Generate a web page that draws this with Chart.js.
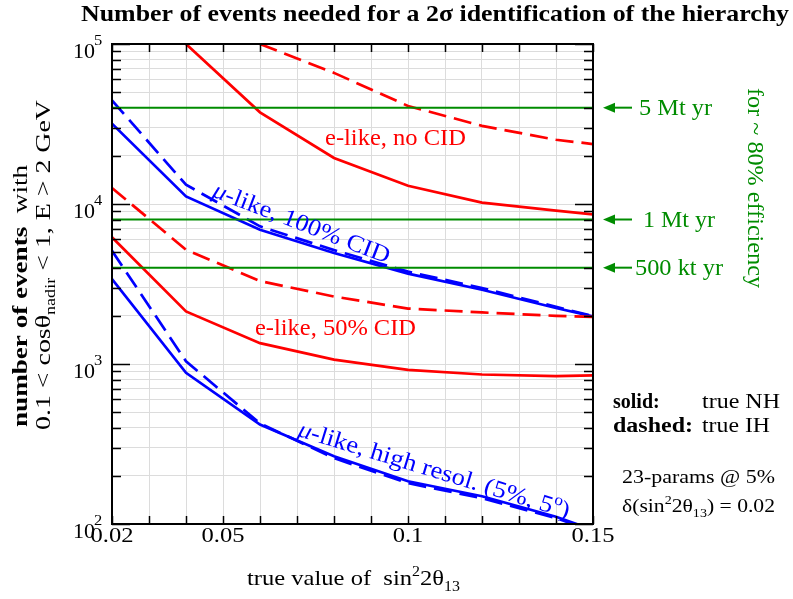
<!DOCTYPE html>
<html>
<head>
<meta charset="utf-8">
<script src="https://cdn.jsdelivr.net/npm/chart.js@4"></script>
<style>
  body { margin: 0; background: #fff; }
  #wrap { width: 793px; height: 599px; }
</style>
</head>
<body>
<div id="wrap"><canvas id="myChart"></canvas></div>
<script>
// true sin^2(2 theta13) values where the curves are evaluated
const sin2theta = [0.02, 0.04, 0.06, 0.08, 0.10, 0.12, 0.14, 0.15];

// number of events needed (solid = true NH, dashed = true IH)
const eNoCidNH  = [null, 100000, 37400, 19400, 13000, 10200, 9100, 8600];
const eNoCidIH  = [null, null, 100000, 66000, 41000, 30800, 25200, 23700];
const e50NH     = [6200, 2130, 1350, 1065, 920, 860, 840, 850];
const e50IH     = [12600, 5180, 3300, 2640, 2220, 2100, 2000, 1970];
const mu100NH   = [31800, 11150, 6900, 4940, 3670, 2910, 2240, 1985];
const mu100IH   = [44400, 13200, 7250, 5150, 3780, 2980, 2280, 1990];
const muResNH   = [3400, 880, 418, 265, 185, 149, 111, 92];
const muResIH   = [5100, 1040, 425, 258, 180, 145, 109, 90];

// exposure reference lines
const exposureEvents = [40000, 8000, 4000];
const exposureLabels = ['5 Mt yr', '1 Mt yr', '500 kt yr'];

// ticks
const xTicks = [0.02, 0.03, 0.04, 0.05, 0.06, 0.07, 0.08, 0.09, 0.10, 0.11, 0.12, 0.13, 0.14, 0.15];
const xLabelValues = [0.02, 0.05, 0.1, 0.15];
const xLabelTexts = ['0.02', '0.05', '0.1', '0.15'];
const yDecades = [2, 3, 4, 5];
const yTicks = [];
yDecades.forEach(function(e) {
  for (let m = 1; m <= 9; m++) {
    if (e === 5 && m > 1) break;
    yTicks.push(m * Math.pow(10, e));
  }
});

const RED = 'rgb(255,0,0)';
const BLUE = 'rgb(0,0,255)';
const GREEN = 'rgb(0,140,0)';
const FONT = '"Liberation Serif", "Times New Roman", serif';

function series(vals, color, dashed) {
  return {
    data: sin2theta.map(function(x, i) { return { x: x, y: vals[i] }; }),
    borderColor: color,
    borderWidth: 2.7,
    borderDash: dashed ? [18, 8] : [],
    pointRadius: 0,
    tension: 0,
    fill: false,
    clip: 0
  };
}

function hline(v) {
  return {
    data: [{ x: sin2theta[0], y: v }, { x: sin2theta[sin2theta.length - 1], y: v }],
    borderColor: GREEN,
    borderWidth: 2,
    pointRadius: 0,
    fill: false,
    clip: 0
  };
}

// draw a list of text runs (with sup/sub), optionally rotated and stretched
function drawRuns(ctx, runs, o) {
  const size = o.size;
  function fontOf(r) {
    const s = (r.sup || r.sub) ? size * (r.small || 0.65) : size;
    return (r.italic ? 'italic ' : '') + (r.bold ? 'bold ' : '') + s + 'px ' + FONT;
  }
  let natural = 0;
  runs.forEach(function(r) { ctx.font = fontOf(r); natural += ctx.measureText(r.t).width; });
  const sx = o.width ? o.width / natural : (o.sx || 1);
  const total = natural * sx;
  ctx.save();
  ctx.translate(o.x, o.y);
  if (o.angle) ctx.rotate(o.angle);
  let start = 0;
  if (o.align === 'center') start = -total / 2;
  else if (o.align === 'right') start = -total;
  ctx.translate(start, 0);
  ctx.scale(sx, 1);
  ctx.fillStyle = o.color || '#000';
  ctx.textBaseline = 'alphabetic';
  ctx.textAlign = 'left';
  let cx = 0;
  runs.forEach(function(r) {
    ctx.font = fontOf(r);
    const dy = r.sup ? -size * (r.rise || 0.42) : (r.sub ? size * 0.25 : 0);
    ctx.fillText(r.t, cx, dy);
    cx += ctx.measureText(r.t).width;
  });
  ctx.restore();
}

const decorations = {
  id: 'decorations',
  afterDatasetsDraw: function(chart) {
    const ctx = chart.ctx;
    const a = chart.chartArea;
    const xs = chart.scales.x;
    const ys = chart.scales.y;
    ctx.save();

    // tick marks pointing inwards
    ctx.strokeStyle = '#000';
    ctx.lineWidth = 1.5;
    ctx.beginPath();
    xTicks.forEach(function(v) {
      const px = Math.round(xs.getPixelForValue(v)) + 0.5;
      ctx.moveTo(px, a.bottom); ctx.lineTo(px, a.bottom - 8);
      ctx.moveTo(px, a.top); ctx.lineTo(px, a.top + 8);
    });
    yTicks.forEach(function(v) {
      const py = Math.round(ys.getPixelForValue(v)) + 0.5;
      const decade = Math.abs(Math.log10(v) - Math.round(Math.log10(v))) < 1e-9;
      const len = decade ? 18 : 9;
      ctx.moveTo(a.left, py); ctx.lineTo(a.left + len, py);
      ctx.moveTo(a.right, py); ctx.lineTo(a.right - len, py);
    });
    ctx.stroke();

    // frame
    ctx.lineWidth = 2;
    ctx.strokeRect(a.left, a.top, a.right - a.left, a.bottom - a.top);

    // x tick labels
    xLabelValues.forEach(function(v, i) {
      drawRuns(ctx, [{ t: xLabelTexts[i] }], { x: xs.getPixelForValue(v), y: 542, size: 21, sx: 1.17, align: 'center' });
    });
    // y tick labels
    yDecades.forEach(function(e) {
      const py = ys.getPixelForValue(Math.pow(10, e));
      drawRuns(ctx, [{ t: '10' }], { x: 95, y: py + 14, size: 22, align: 'right' });
      drawRuns(ctx, [{ t: String(e) }], { x: 94, y: py + 1, size: 15, sx: 1.1, align: 'left' });
    });

    // title
    drawRuns(ctx, [{ t: 'Number of events needed for a 2\u03c3 identification of the hierarchy', bold: true }],
      { x: 435, y: 21, size: 23, width: 708, align: 'center' });

    // axis titles
    drawRuns(ctx, [{ t: 'true value of  sin' }, { t: '2', sup: true }, { t: '2\u03b8' }, { t: '13', sub: true }],
      { x: 247, y: 585, size: 22, width: 213, align: 'left' });
    drawRuns(ctx, [{ t: 'number of events', bold: true }, { t: '  with' }],
      { x: 27, y: 427, size: 21, width: 262, align: 'left', angle: -Math.PI / 2 });
    drawRuns(ctx, [{ t: '0.1 < cos\u03b8' }, { t: 'nadir', sub: true }, { t: ' < 1, E > 2 GeV' }],
      { x: 50, y: 430, size: 21, width: 330, align: 'left', angle: -Math.PI / 2 });

    // exposure labels with arrows
    const labelX = [639, 643, 635];
    const labelW = [73, 72, 88];
    exposureEvents.forEach(function(v, i) {
      const py = ys.getPixelForValue(v);
      ctx.strokeStyle = GREEN;
      ctx.fillStyle = GREEN;
      ctx.lineWidth = 2;
      ctx.beginPath();
      ctx.moveTo(612, py); ctx.lineTo(632, py);
      ctx.stroke();
      ctx.beginPath();
      ctx.moveTo(603, py); ctx.lineTo(615, py - 5); ctx.lineTo(615, py + 5); ctx.closePath();
      ctx.fill();
      drawRuns(ctx, [{ t: exposureLabels[i] }], { x: labelX[i], y: py + 7, size: 23, width: labelW[i], align: 'left', color: GREEN });
    });
    drawRuns(ctx, [{ t: 'for ~ 80% efficiency' }], { x: 748, y: 88, size: 23, width: 200, align: 'left', angle: Math.PI / 2, color: GREEN });

    // curve labels
    drawRuns(ctx, [{ t: 'e-like, no CID' }], { x: 325, y: 145, size: 23, width: 141, align: 'left', color: RED });
    drawRuns(ctx, [{ t: 'e-like, 50% CID' }], { x: 255, y: 335, size: 23, width: 161, align: 'left', color: RED });
    drawRuns(ctx, [{ t: '\u03bc', italic: true }, { t: '-like, 100% CID' }],
      { x: 299, y: 230, size: 24, width: 188, align: 'center', angle: 21 * Math.PI / 180, color: BLUE });
    drawRuns(ctx, [{ t: '\u03bc', italic: true }, { t: '-like, high resol. (5%, 5' }, { t: 'o', sup: true }, { t: ')' }],
      { x: 432, y: 477, size: 24, width: 283, align: 'center', angle: 17 * Math.PI / 180, color: BLUE });

    // legend text
    drawRuns(ctx, [{ t: 'solid:', bold: true }], { x: 613, y: 408, size: 20, align: 'left' });
    drawRuns(ctx, [{ t: 'true NH' }], { x: 702, y: 408, size: 20, width: 78, align: 'left' });
    drawRuns(ctx, [{ t: 'dashed:', bold: true }], { x: 613, y: 432, size: 20, width: 80, align: 'left' });
    drawRuns(ctx, [{ t: 'true IH' }], { x: 702, y: 432, size: 20, width: 68, align: 'left' });
    drawRuns(ctx, [{ t: '23-params @ 5%' }], { x: 622, y: 483, size: 19, width: 153, align: 'left' });
    drawRuns(ctx, [{ t: '\u03b4(sin' }, { t: '2', sup: true }, { t: '2\u03b8' }, { t: '13', sub: true }, { t: ') = 0.02' }],
      { x: 622, y: 512, size: 19, width: 153, align: 'left' });

    ctx.restore();
  }
};

document.addEventListener('DOMContentLoaded', function() {
  const ctx = document.getElementById('myChart').getContext('2d');

  new Chart(ctx, {
    type: 'line',
    data: {
      datasets: [
        hline(exposureEvents[0]),
        hline(exposureEvents[1]),
        hline(exposureEvents[2]),
        series(eNoCidNH, RED, false),
        series(eNoCidIH, RED, true),
        series(e50NH, RED, false),
        series(e50IH, RED, true),
        series(mu100NH, BLUE, false),
        series(mu100IH, BLUE, true),
        series(muResNH, BLUE, false),
        series(muResIH, BLUE, true)
      ]
    },
    options: {
      responsive: true,
      maintainAspectRatio: false,
      animation: false,
      layout: { padding: { left: 112, right: 200, top: 44, bottom: 75 } },
      plugins: { legend: { display: false }, tooltip: { enabled: false } },
      scales: {
        x: {
          type: 'linear',
          min: 0.02,
          max: 0.15,
          afterBuildTicks: function(s) { s.ticks = xTicks.map(function(v) { return { value: v }; }); },
          afterFit: function(s) { s.height = 0; },
          ticks: { display: false },
          grid: { color: '#dcdcdc', lineWidth: 1, drawTicks: false },
          border: { display: false }
        },
        y: {
          type: 'logarithmic',
          min: 100,
          max: 100000,
          afterBuildTicks: function(s) { s.ticks = yTicks.map(function(v) { return { value: v }; }); },
          afterFit: function(s) { s.width = 0; },
          ticks: { display: false },
          grid: { color: '#dcdcdc', lineWidth: 1, drawTicks: false },
          border: { display: false }
        }
      }
    },
    plugins: [decorations]
  });
});
</script>
</body>
</html>
